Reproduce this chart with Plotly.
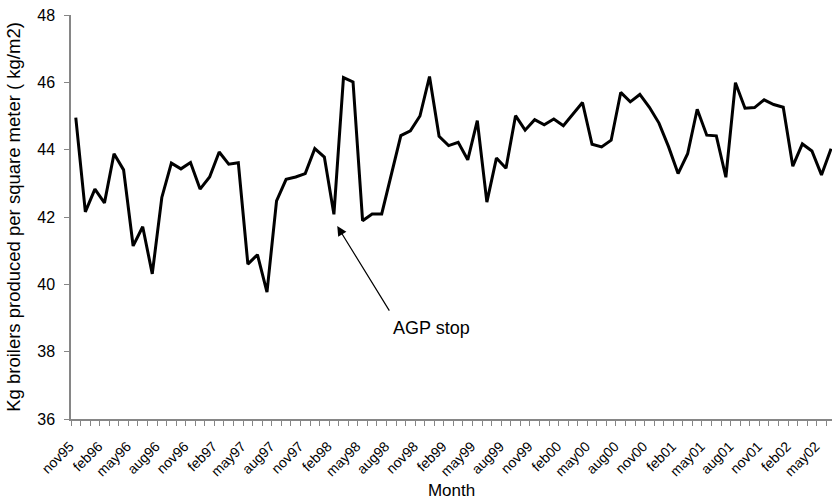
import plotly.graph_objects as go

months = [
    "nov95", "dec95",
    "jan96", "feb96", "mar96", "apr96", "may96", "jun96", "jul96", "aug96", "sep96", "oct96", "nov96", "dec96",
    "jan97", "feb97", "mar97", "apr97", "may97", "jun97", "jul97", "aug97", "sep97", "oct97", "nov97", "dec97",
    "jan98", "feb98", "mar98", "apr98", "may98", "jun98", "jul98", "aug98", "sep98", "oct98", "nov98", "dec98",
    "jan99", "feb99", "mar99", "apr99", "may99", "jun99", "jul99", "aug99", "sep99", "oct99", "nov99", "dec99",
    "jan00", "feb00", "mar00", "apr00", "may00", "jun00", "jul00", "aug00", "sep00", "oct00", "nov00", "dec00",
    "jan01", "feb01", "mar01", "apr01", "may01", "jun01", "jul01", "aug01", "sep01", "oct01", "nov01", "dec01",
    "jan02", "feb02", "mar02", "apr02", "may02", "jun02",
]

kg_per_m2 = [
    44.95, 42.15, 42.83, 42.42, 43.88, 43.40, 41.14, 41.71, 40.31, 42.58,
    43.60, 43.43, 43.62, 42.83, 43.19, 43.93, 43.57, 43.61, 40.60, 40.88,
    39.77, 42.48, 43.12, 43.19, 43.29, 44.03, 43.78, 42.08, 46.14, 46.01,
    41.89, 42.09, 42.09, 43.30, 44.42, 44.56, 45.00, 46.17, 44.40, 44.12,
    44.22, 43.70, 44.86, 42.44, 43.75, 43.45, 45.01, 44.58, 44.89, 44.74,
    44.91, 44.71, 45.06, 45.40, 44.16, 44.08, 44.28, 45.70, 45.42, 45.64,
    45.26, 44.79, 44.09, 43.29, 43.88, 45.20, 44.43, 44.41, 43.18, 45.99,
    45.23, 45.25, 45.48, 45.34, 45.26, 43.51, 44.17, 43.96, 43.25, 44.03,
]

tick_labels = [
    "nov95", "feb96", "may96", "aug96", "nov96", "feb97", "may97", "aug97", "nov97",
    "feb98", "may98", "aug98", "nov98", "feb99", "may99", "aug99", "nov99", "feb00",
    "may00", "aug00", "nov00", "feb01", "may01", "aug01", "nov01", "feb02", "may02",
]

y_ticks = [36, 38, 40, 42, 44, 46, 48]

annotation_month = "feb98"
annotation_text = "AGP stop"

x_idx = list(range(len(months)))
tick_pos = [months.index(m) for m in tick_labels]
ann_i = months.index(annotation_month)

FONT = "Liberation Sans, Arial, sans-serif"
AXIS_COLOR = "#868686"

fig = go.Figure()
fig.add_trace(go.Scatter(
    x=x_idx, y=kg_per_m2, mode="lines",
    line=dict(color="black", width=3),
    hoverinfo="skip", showlegend=False,
))

fig.update_layout(
    width=832, height=500,
    margin=dict(l=71, r=0, t=15, b=81),
    paper_bgcolor="white", plot_bgcolor="white",
    font=dict(family=FONT, color="black"),
    showlegend=False,
)

fig.update_xaxes(
    range=[-0.5, 79.1],
    tickmode="array", tickvals=tick_pos, ticktext=tick_labels,
    tickangle=-45, ticks="", tickfont=dict(size=14),
    ticklabelstandoff=12, ticklabelshift=-6,
    showline=True, linecolor=AXIS_COLOR, linewidth=1.5,
    showgrid=False, zeroline=False,
    minor=dict(tickmode="linear", tick0=-0.5, dtick=1, ticks="outside",
               ticklen=5, tickcolor=AXIS_COLOR, tickwidth=1, showgrid=False),
    title=dict(text="Month", font=dict(size=17), standoff=14),
    automargin=False,
)

fig.update_yaxes(
    range=[36, 48], tickvals=y_ticks,
    ticks="outside", ticklen=5, tickcolor=AXIS_COLOR, tickwidth=1,
    tickfont=dict(size=16), ticklabelstandoff=6,
    showline=True, linecolor=AXIS_COLOR, linewidth=1.5,
    showgrid=False, zeroline=False,
    title=dict(text="Kg broilers produced per square meter ( kg/m2)",
               font=dict(size=18.5), standoff=12),
    automargin=False,
)

fig.add_annotation(
    x=ann_i + 0.35, y=kg_per_m2[ann_i] - 0.35,
    xref="x", yref="y",
    text="", showarrow=True,
    ax=53, ay=86, axref="pixel", ayref="pixel",
    arrowhead=2, arrowsize=1.6, arrowwidth=1.2, arrowcolor="black",
)
fig.add_annotation(
    x=ann_i + 10.2, y=38.7, xref="x", yref="y",
    text=annotation_text, showarrow=False,
    font=dict(size=18, family=FONT, color="black"),
)

fig.write_html(
    "out.html",
    config={"displayModeBar": False},
    post_script="document.body.style.margin='0';document.body.style.overflow='hidden';",
)
